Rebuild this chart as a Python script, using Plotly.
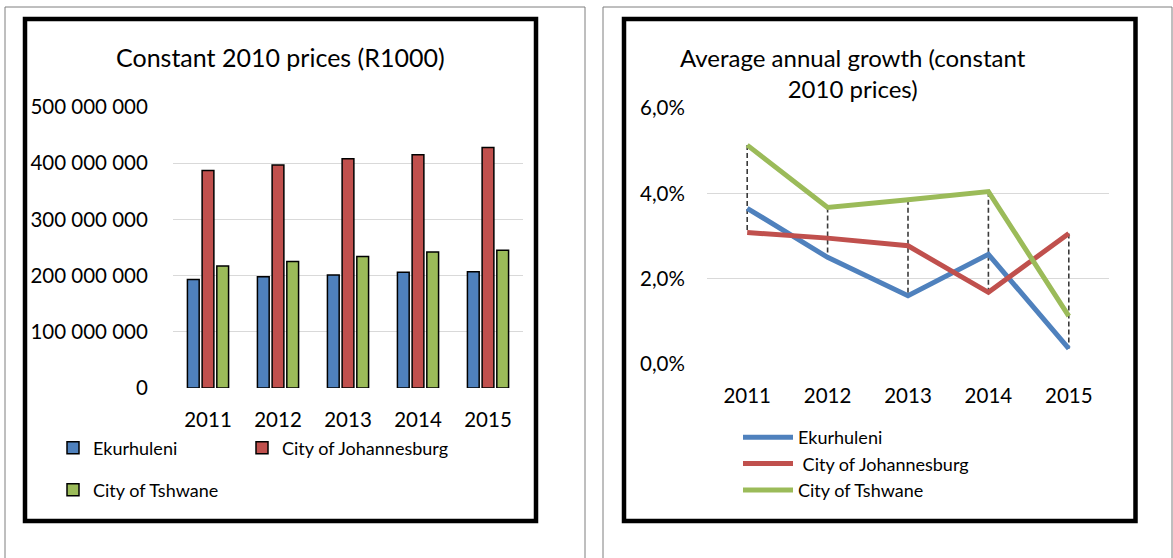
import plotly.graph_objects as go

# ---- data -------------------------------------------------------------
years = ["2011", "2012", "2013", "2014", "2015"]
series_names = ["Ekurhuleni", "City of Johannesburg", "City of Tshwane"]

# GVA at constant 2010 prices (R1000)
ekurhuleni_gva = [193e6, 198e6, 201e6, 206e6, 207e6]
johannesburg_gva = [387e6, 397e6, 408e6, 415e6, 428e6]
tshwane_gva = [217e6, 225e6, 234e6, 242e6, 245e6]

# average annual growth, percent
ekurhuleni_growth = [3.65, 2.50, 1.60, 2.57, 0.36]
johannesburg_growth = [3.08, 2.95, 2.77, 1.68, 3.06]
tshwane_growth = [5.13, 3.67, 3.85, 4.04, 1.12]

gva_tickvals = [0, 100e6, 200e6, 300e6, 400e6, 500e6]
gva_ticktext = ["0", "100 000 000", "200 000 000", "300 000 000",
                "400 000 000", "500 000 000"]
growth_tickvals = [0, 2, 4, 6]
growth_ticktext = ["0,0%", "2,0%", "4,0%", "6,0%"]

colors = ["#4F81BD", "#C0504D", "#9BBB59"]

# ---- page geometry (pixels) -------------------------------------------
W, H = 1173, 558
FONT = "Lato"


def px(x):
    return x / W


def py(y):
    return 1 - y / H


fig = go.Figure()

# ---- left chart: grouped bars -----------------------------------------
gva_series = [ekurhuleni_gva, johannesburg_gva, tshwane_gva]
bar_legends = ["legend", "legend2", "legend3"]
for name, vals, col, lg in zip(series_names, gva_series, colors, bar_legends):
    fig.add_trace(go.Bar(
        x=years, y=vals, name=name, legend=lg,
        marker=dict(color=col, line=dict(color="#000000", width=1.5)),
        xaxis="x", yaxis="y",
    ))

# ---- right chart: growth lines with high-low drop lines ---------------
growth_series = [ekurhuleni_growth, johannesburg_growth, tshwane_growth]
hl_x, hl_y = [], []
for i, yr in enumerate(years):
    vals = [s[i] for s in growth_series]
    hl_x += [yr, yr, None]
    hl_y += [max(vals), min(vals), None]
fig.add_trace(go.Scatter(
    x=hl_x, y=hl_y, mode="lines", showlegend=False, hoverinfo="skip",
    line=dict(color="#3A3A3A", width=1.6, dash="5px,3px"),
    xaxis="x2", yaxis="y2",
))
line_names = ["Ekurhuleni", " City of Johannesburg", "City of Tshwane"]
for name, vals, col in zip(line_names, growth_series, colors):
    fig.add_trace(go.Scatter(
        x=years, y=vals, name=name, mode="lines", legend="legend4",
        line=dict(color=col, width=5),
        xaxis="x2", yaxis="y2",
    ))

tick_font = dict(family=FONT, size=20.5, color="#000000")
legend_font = dict(family=FONT, size=18, color="#000000")


def legend_at(x, y, itemwidth=30):
    return dict(x=px(x), y=py(y), xanchor="left", yanchor="middle",
                orientation="v", font=legend_font, itemwidth=itemwidth,
                bgcolor="rgba(0,0,0,0)", borderwidth=0)


# ---- frames -----------------------------------------------------------
shapes = [
    dict(type="rect", xref="paper", yref="paper",
         x0=px(5), y0=py(7), x1=px(585), y1=py(580),
         line=dict(color="#7F7F7F", width=1)),
    dict(type="rect", xref="paper", yref="paper",
         x0=px(603), y0=py(7), x1=px(1172), y1=py(580),
         line=dict(color="#7F7F7F", width=1)),
    dict(type="rect", xref="paper", yref="paper",
         x0=px(25), y0=py(19), x1=px(536), y1=py(521),
         line=dict(color="#000000", width=4.5)),
    dict(type="rect", xref="paper", yref="paper",
         x0=px(624), y0=py(19), x1=px(1135.5), y1=py(521),
         line=dict(color="#000000", width=4.5)),
]

annotations = [
    dict(text="Constant 2010 prices (R1000)", xref="paper", yref="paper",
         x=px(280), y=py(57), xanchor="center", yanchor="middle",
         showarrow=False, font=dict(family=FONT, size=25, color="#000000")),
    dict(text="Average annual growth (constant<br>2010 prices)",
         xref="paper", yref="paper", x=px(853), y=py(73),
         xanchor="center", yanchor="middle", showarrow=False, align="center",
         font=dict(family=FONT, size=24, color="#000000")),
]

axis_common = dict(zeroline=False, showline=False, automargin=False,
                   tickcolor="rgba(0,0,0,0)", ticks="outside",
                   tickfont=tick_font, fixedrange=True)

fig.update_layout(
    template="none",
    width=W, height=H,
    margin=dict(l=0, r=0, t=0, b=0, pad=0, autoexpand=False),
    paper_bgcolor="#FFFFFF", plot_bgcolor="#FFFFFF",
    barmode="group", bargap=0.37, bargroupgap=0.2,
    showlegend=True,
    shapes=shapes, annotations=annotations,
    xaxis=dict(domain=[px(173), px(523)], anchor="y", type="category",
               showgrid=False, ticklen=13, **axis_common),
    yaxis=dict(domain=[py(388), py(107)], anchor="x", range=[0, 500e6],
               tickvals=gva_tickvals, ticktext=gva_ticktext,
               showgrid=True, gridcolor="#D9D9D9", gridwidth=1.3,
               ticklen=20, **axis_common),
    xaxis2=dict(domain=[px(707), px(1109)], anchor="y2", type="category",
                range=[-0.5, 4.5],
                showgrid=False, ticklen=13, **axis_common),
    yaxis2=dict(domain=[py(364), py(108)], anchor="x2", range=[0, 6],
                tickvals=growth_tickvals, ticktext=growth_ticktext,
                showgrid=True, gridcolor="#D9D9D9", gridwidth=1.3,
                ticklen=17, **axis_common),
    legend=legend_at(53, 448),
    legend2=legend_at(242, 448),
    legend3=legend_at(53, 490),
    legend4=legend_at(738, 464, itemwidth=50),
)

fig.write_html("out.html")
